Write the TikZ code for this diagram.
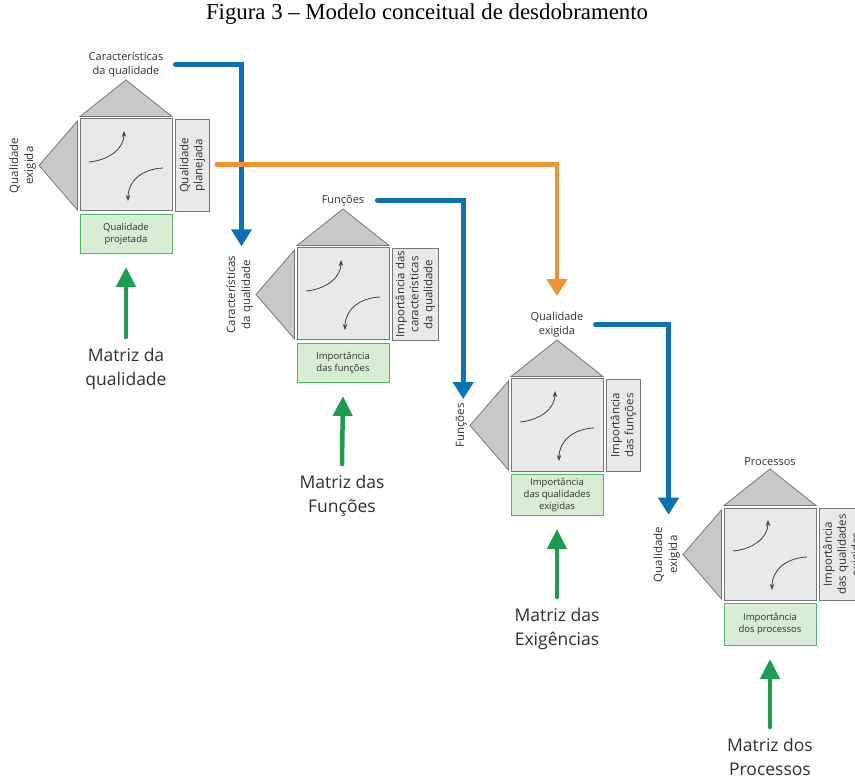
\documentclass[tikz,border=0pt]{standalone}
\usepackage{fontspec}
\setmainfont{Open Sans}
\newfontfamily\titlefont{Liberation Serif}
\usetikzlibrary{arrows.meta}

\definecolor{qfdblue}{HTML}{0B72B8}
\definecolor{qfdorange}{HTML}{F29332}
\definecolor{qfdgreen}{HTML}{1C9C4C}
\definecolor{roofgray}{HTML}{C8C8C8}
\definecolor{edgegray}{HTML}{767676}
\definecolor{cellgray}{HTML}{E9E9E9}
\definecolor{cellgreen}{HTML}{D8EDD3}
\definecolor{greenedge}{HTML}{4FB866}
\definecolor{textgray}{HTML}{303030}

\tikzset{
  roof/.style={fill=roofgray, draw=edgegray, line width=0.8pt, line join=miter},
  matrixcell/.style={draw=edgegray, fill=cellgray, line width=1pt, inner sep=0pt,
    minimum width=92pt, minimum height=92pt},
  sidebox/.style={draw=edgegray, fill=cellgray, line width=0.8pt, inner sep=0pt,
    align=center, text=textgray, font=\fontsize{11.5}{14}\selectfont},
  greenbox/.style={draw=greenedge, fill=cellgreen, line width=1pt, inner sep=0pt,
    align=center, text=textgray, font=\fontsize{9.5}{12}\selectfont,
    minimum width=92pt},
  toplbl/.style={align=center, text=textgray, inner sep=1pt,
    font=\fontsize{11}{13.5}\selectfont},
  sidelbl/.style={align=center, text=textgray, inner sep=1pt,
    font=\fontsize{11.5}{15}\selectfont},
  biglbl/.style={align=center, text=textgray, inner sep=1pt,
    font=\fontsize{17.5}{24}\selectfont},
  turnarrow/.style={draw=black!75, line width=0.8pt, -{Stealth[length=6pt,width=4.5pt]}},
  flowblue/.style={draw=qfdblue, line width=5pt, line cap=round,
    -{Triangle[length=17pt,width=20pt]}},
  floworange/.style={draw=qfdorange, line width=4.5pt, line cap=round,
    -{Triangle[length=17pt,width=20pt]}},
  flowgreen/.style={draw=qfdgreen, line width=4.5pt, line cap=round,
    -{Triangle[length=20pt,width=19pt]}},
}

% One house of quality: prefix, top-left corner of the matrix, top label,
% left label, side box text, side box width, bottom box text, bottom box height
\newcommand\qfdhouse[9]{%
  \begin{scope}[shift={(#2,#3)}]
    \draw[roof] (0,-2.5) -- (46,-39) -- (92,-2.5) -- cycle;
    \draw[roof] (-2.5,2) -- (-41,46.5) -- (-2.5,91) -- cycle;
    \node[matrixcell] (#1sq) at (46,46) {};
    \draw[turnarrow] (9,43) .. controls (30,41) and (44,29) .. (44,12);
    \draw[turnarrow] (83,49) .. controls (62,50) and (48,62) .. (48,82);
    \node[toplbl, anchor=south] (#1top) at (46,-41) {#4};
    \node[sidelbl, rotate=90, anchor=south] (#1left) at (-43,46.5) {#5};
    \node[sidebox, rotate=90, minimum width=92pt, minimum height=#7pt,
      anchor=north east] (#1side) at (95,0) {#6};
    \node[greenbox, minimum height=#9pt, anchor=north] (#1grn) at (46,95) {#8};
  \end{scope}}

\begin{document}
\begin{tikzpicture}[x=1pt, y=-1pt]
  \clip (0,0) rectangle (855,778);

  \node[font=\titlefont\fontsize{22.8}{26}\selectfont] (title) at (427,14)
    {Figura 3 – Modelo conceitual de desdobramento};

  \qfdhouse{q1}{80}{119}{Características\\da qualidade}{Qualidade\\exigida}
    {Qualidade\\planejada}{34}{Qualidade\\projetada}{39}
  \qfdhouse{q2}{297}{248}{Funções}{Características\\da qualidade}
    {Importância das\\características\\da qualidade}{46}{Importância\\das funções}{39}
  \qfdhouse{q3}{511}{379}{Qualidade\\exigida}{Funções}
    {Importância\\das funções}{34}{Importância\\das qualidades\\exigidas}{41}
  \qfdhouse{q4}{724}{508}{Processos}{Qualidade\\exigida}
    {Importância\\das qualidades\\exigidas}{47}{Importância\\dos processos}{42}

  % matrix names under each house
  \node[biglbl] (m1) at (126,369) {Matriz da\\qualidade};
  \node[biglbl] (m2) at (342,496) {Matriz das\\Funções};
  \node[biglbl] (m3) at (557,629) {Matriz das\\Exigências};
  \node[biglbl] (m4) at (770,757) {Matriz dos\\Processos};

  \foreach \k in {1,2,3,4}
    \draw[flowgreen] ([yshift=10pt]m\k.north) -- ([yshift=-13pt]q\k grn.south);

  % links between the houses
  \draw[flowblue] ([xshift=11pt]q1top.east) -| ([xshift=2pt,yshift=8pt]q2left.east);
  \draw[flowblue] ([xshift=12pt]q2top.east) -| ([xshift=2pt,yshift=3pt]q3left.east);
  \draw[flowblue] ([xshift=11pt]q3top.east) -| ([xshift=2pt,yshift=11pt]q4left.east);
  \draw[floworange] ([xshift=7pt,yshift=1pt]q1side.south) -| ([yshift=15pt]q3top.north);
\end{tikzpicture}
\end{document}
